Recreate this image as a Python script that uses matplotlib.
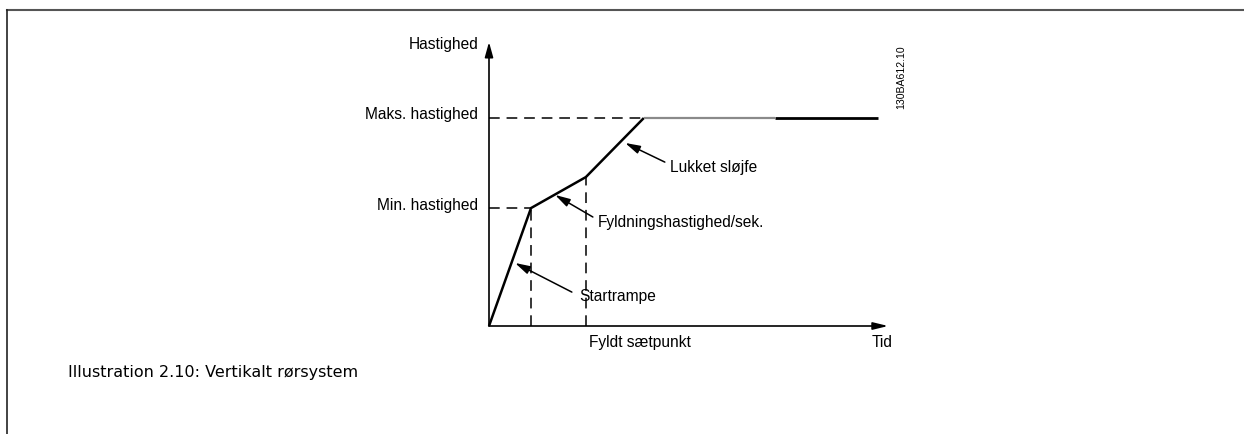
import matplotlib
matplotlib.use("Agg")
import matplotlib.pyplot as plt
from matplotlib.lines import Line2D

# Data (time units, speed in % of max)
time_pts = [0.0, 1.08, 2.49, 3.98, 10.0]
speed_pts = [0.0, 56.7, 71.6, 100.0, 100.0]
min_speed = 56.7
max_speed = 100.0
t_min = 1.08
t_fill = 2.49

W, H = 1244, 434
fig = plt.figure(figsize=(W / 100, H / 100), dpi=100)
fig.patch.set_facecolor("white")

# page frame
fig.add_artist(Line2D([7 / W, 1.0], [1 - 10 / H, 1 - 10 / H], color="#555555", lw=1.5))
fig.add_artist(Line2D([7 / W, 7 / W], [0, 1 - 10 / H], color="#222222", lw=1.2))

ox, oy = 489, 326
xr, yt = 878, 118
ax = fig.add_axes([ox / W, (H - oy) / H, (xr - ox) / W, (oy - yt) / H])
ax.set_xlim(0, 10)
ax.set_ylim(0, 100)
ax.axis("off")

lab = dict(family="Liberation Sans", fontsize=11.2, color="black")

# axes arrows
ax.annotate("", xy=(0, 136.5), xytext=(0, 0), annotation_clip=False,
            arrowprops=dict(arrowstyle="-|>,head_length=0.9,head_width=0.25", color="black", lw=1.2,
                            shrinkA=0, shrinkB=0))
ax.annotate("", xy=(10.26, 0), xytext=(0, 0), annotation_clip=False,
            arrowprops=dict(arrowstyle="-|>,head_length=0.9,head_width=0.22", color="black", lw=1.2,
                            shrinkA=0, shrinkB=0))

# dashed reference lines
dash = dict(color="black", lw=1.1, linestyle=(0, (7, 4.5)), clip_on=False)
ax.plot([0, time_pts[3]], [max_speed, max_speed], **dash)
ax.plot([0, t_min], [min_speed, min_speed], **dash)
ax.plot([t_min, t_min], [0, min_speed], **dash)
ax.plot([t_fill, t_fill], [0, speed_pts[2]], **dash)

# speed profile
ax.plot(time_pts[:4], speed_pts[:4], color="black", lw=1.8, clip_on=False, solid_capstyle="butt")
ax.plot([time_pts[3], 7.35], [max_speed, max_speed], color="#8a8a8a", lw=1.6, clip_on=False,
        solid_capstyle="butt")
ax.plot([7.35, time_pts[4]], [max_speed, max_speed], color="black", lw=2.0, clip_on=False,
        solid_capstyle="butt")

# labels
ax.text(-0.28, 135.1, "Hastighed", ha="right", va="center", **lab)
ax.text(-0.28, 101.9, "Maks. hastighed", ha="right", va="center", **lab)
ax.text(-0.28, 57.7, "Min. hastighed", ha="right", va="center", **lab)
ax.text(2.57, -7.7, "Fyldt sætpunkt", ha="left", va="center", **lab)
ax.text(10.1, -7.7, "Tid", ha="center", va="center", **lab)

# annotations
ap = dict(arrowstyle="-|>,head_length=0.9,head_width=0.25", color="black", lw=1.1,
          shrinkA=0, shrinkB=0)
ax.annotate("", xy=(3.50, 88.0), xytext=(4.52, 78.8), annotation_clip=False, arrowprops=ap)
ax.text(4.65, 76.4, "Lukket sløjfe", ha="left", va="center", **lab)
ax.annotate("", xy=(1.70, 63.0), xytext=(2.67, 52.4), annotation_clip=False, arrowprops=ap)
ax.text(2.80, 50.0, "Fyldningshastighed/sek.", ha="left", va="center", **lab)
ax.annotate("", xy=(0.67, 30.3), xytext=(2.13, 16.3), annotation_clip=False, arrowprops=ap)
ax.text(2.31, 14.4, "Startrampe", ha="left", va="center", **lab)

fig.text(901 / W, 1 - 77 / H, "130BA612.10", rotation=90, ha="center", va="center",
         family="Liberation Sans", fontsize=7.6)

fig.text(68 / W, 1 - 373 / H, "Illustration 2.10: Vertikalt rørsystem", ha="left", va="center",
         family="DejaVu Sans", fontsize=11.5)

fig.savefig("out.png", dpi=100)
